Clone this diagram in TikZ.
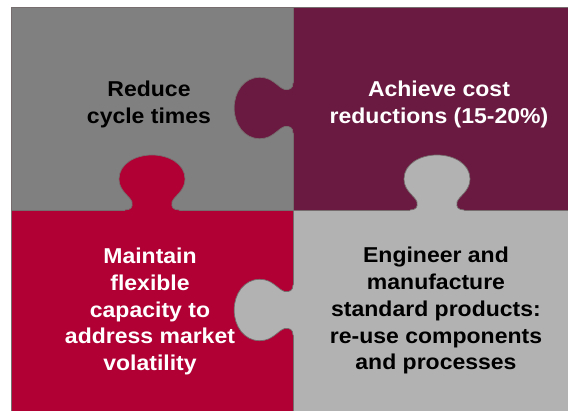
\documentclass[tikz,border=0pt]{standalone}
\usepackage{fontspec}
\setmainfont{Liberation Sans}
\newfontfamily\pfont{Liberation Sans}[FakeStretch=1.07]
\definecolor{cgray}{RGB}{128,128,128}
\definecolor{cmaroon}{RGB}{106,26,64}
\definecolor{cred}{RGB}{176,0,52}
\definecolor{clight}{RGB}{178,178,178}
\definecolor{cedge}{RGB}{118,110,110}
\tikzset{
  tabshape/.style={insert path={(-27,0) .. controls (-21,0) and (-19,3) .. (-20,8)
     .. controls (-22,14) and (-33,19) .. (-33,31)
     .. controls (-33,46) and (-17,55) .. (0,55)
     .. controls (17,55) and (33,46) .. (33,31)
     .. controls (33,19) and (22,14) .. (20,8)
     .. controls (19,3) and (21,0) .. (27,0)}},
  edgeline/.style={draw=cedge, line width=0.7pt},
  txt/.style={font=\pfont\bfseries\fontsize{21.5}{27}\selectfont, align=center, inner sep=0pt, anchor=base},
}
\begin{document}
\begin{tikzpicture}[x=1pt,y=1pt]
\useasboundingbox (0,0) rectangle (568,410);
\fill[white] (0,0) rectangle (568,410);
\clip (0,0) rectangle (568,410);
% pieces
\filldraw[fill=cgray, edgeline] (11,403) rectangle (293,200);
\filldraw[fill=cmaroon, edgeline] (293,403) rectangle (576,200);
\filldraw[fill=cred, edgeline] (11,200) rectangle (293,-4);
\filldraw[fill=clight, edgeline] (293,200) rectangle (576,-4);
% tab 1: maroon into gray
\begin{scope}[shift={(293,302)}, rotate=90, xscale=0.93, yscale=1.07]
  \fill[cmaroon] [tabshape] -- (27,-2) -- (-27,-2) -- cycle;
  \draw[edgeline] [tabshape];
\end{scope}
% tab 2: red into gray
\begin{scope}[shift={(152,200)}]
  \fill[cred] [tabshape] -- (27,-2) -- (-27,-2) -- cycle;
  \draw[edgeline] [tabshape];
\end{scope}
% tab 3: light gray into maroon
\begin{scope}[shift={(437,200)}]
  \fill[clight] [tabshape] -- (27,-2) -- (-27,-2) -- cycle;
  \draw[edgeline] [tabshape];
\end{scope}
% tab 4: light gray into red
\begin{scope}[shift={(293,100)}, rotate=90, xscale=0.93, yscale=1.07]
  \fill[clight] [tabshape] -- (27,-2) -- (-27,-2) -- cycle;
  \draw[edgeline] [tabshape];
\end{scope}
% texts (base anchor = baseline of the last line)
\node[txt, text=black] (t1) at (149,286) {Reduce\\cycle times};
\node[txt, text=white] (t2) at (439,286) {Achieve cost\\reductions (15-20\%)};
\node[txt, text=white] (t3) at (150,39) {Maintain\\flexible\\capacity to\\address market\\volatility};
\node[txt, text=black] (t4) at (436,40) {Engineer and\\manufacture\\standard products:\\re-use components\\and processes};
\end{tikzpicture}
\end{document}
